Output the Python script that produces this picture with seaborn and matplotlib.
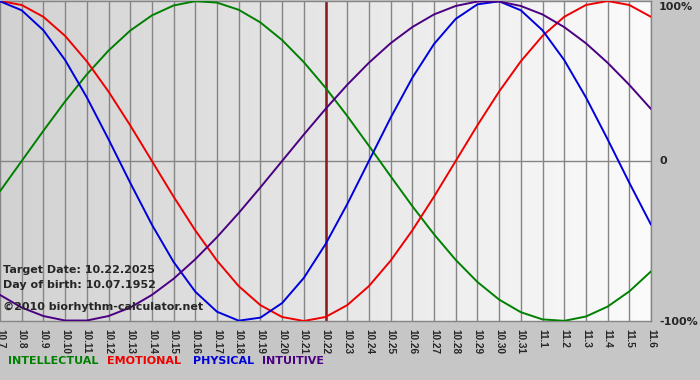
import numpy as np
import pandas as pd
import matplotlib
matplotlib.use("Agg")
import matplotlib.pyplot as plt
import seaborn as sns

# day labels on the x axis (10.7 .. 11.6)
days = ["10.7", "10.8", "10.9", "10.10", "10.11", "10.12", "10.13", "10.14",
        "10.15", "10.16", "10.17", "10.18", "10.19", "10.20", "10.21", "10.22",
        "10.23", "10.24", "10.25", "10.26", "10.27", "10.28", "10.29", "10.30",
        "10.31", "11.1", "11.2", "11.3", "11.4", "11.5", "11.6"]

# cycle values per day, -1 .. 1
intellectual = [-0.189, 0.0, 0.189, 0.372, 0.541, 0.690, 0.815, 0.910, 0.972, 0.999,
                0.990, 0.945, 0.866, 0.756, 0.618, 0.458, 0.282, 0.095, -0.095, -0.282,
                -0.458, -0.618, -0.756, -0.866, -0.945, -0.990, -0.999, -0.972, -0.910,
                -0.815, -0.690]
emotional = [1.0, 0.975, 0.901, 0.782, 0.623, 0.434, 0.223, 0.0, -0.223, -0.434,
             -0.623, -0.782, -0.901, -0.975, -1.0, -0.975, -0.901, -0.782, -0.623, -0.434,
             -0.223, 0.0, 0.223, 0.434, 0.623, 0.782, 0.901, 0.975, 1.0, 0.975, 0.901]
physical = [0.998, 0.942, 0.817, 0.631, 0.398, 0.136, -0.136, -0.398, -0.631, -0.817,
            -0.942, -0.998, -0.979, -0.888, -0.731, -0.520, -0.270, 0.0, 0.270, 0.520,
            0.731, 0.888, 0.979, 0.998, 0.942, 0.817, 0.631, 0.398, 0.136, -0.136, -0.398]
intuitive = [-0.837, -0.916, -0.969, -0.997, -0.997, -0.969, -0.916, -0.837, -0.736, -0.614,
             -0.476, -0.325, -0.165, 0.0, 0.165, 0.325, 0.476, 0.614, 0.736, 0.837,
             0.916, 0.969, 0.997, 0.997, 0.969, 0.916, 0.837, 0.736, 0.614, 0.476, 0.325]

y_levels = [1, 0, -1]
y_labels = ["100%", "0", "-100%"]

target_day = "10.22"
target_text = "Target Date: 10.22.2025"
birth_text = "Day of birth: 10.07.1952"
copyright_text = "\u00a92010 biorhythm-calculator.net"

colors = {"INTELLECTUAL": "#008000", "EMOTIONAL": "#ee0000",
          "PHYSICAL": "#0000dd", "INTUITIVE": "#4b0082"}

df = pd.DataFrame({
    "day": list(range(len(days))) * 4,
    "value": intellectual + emotional + physical + intuitive,
    "cycle": (["INTELLECTUAL"] * len(days) + ["EMOTIONAL"] * len(days)
              + ["PHYSICAL"] * len(days) + ["INTUITIVE"] * len(days)),
})

sns.set_style("white")
plt.rcParams["font.family"] = ["DejaVu Sans"]

fig = plt.figure(figsize=(7, 3.8), dpi=100, facecolor="#c6c6c6")
ax = fig.add_axes([0, 59 / 380, 651 / 700, 320 / 380])

# light grey gradient behind the curves
grad = np.linspace(0, 1, 256).reshape(1, -1)
ax.imshow(grad, extent=[0, len(days) - 1, -1, 1], aspect="auto",
          cmap=matplotlib.colors.LinearSegmentedColormap.from_list("bg", ["#d2d2d2", "#fbfbfb"]),
          zorder=0)

for d in range(len(days)):
    ax.axvline(d, color="#858585", lw=1, zorder=1)
ax.axhline(0, color="#858585", lw=1, zorder=1)
ax.axvline(days.index(target_day), color="#8b1a1a", lw=1.8, zorder=2)

sns.lineplot(data=df, x="day", y="value", hue="cycle", palette=colors,
             linewidth=1.4, legend=False, ax=ax, zorder=3)

ax.set_xlim(0, len(days) - 1)
ax.set_ylim(-1, 1)
ax.set_xlabel("")
ax.set_ylabel("")
ax.set_xticks(range(len(days)))
ax.set_xticklabels(days, rotation=-90, fontsize=7.2, family="Liberation Sans",
                   fontweight="bold")
ax.tick_params(axis="x", length=5, color="#858585", pad=1, width=1)
ax.set_yticks([])
for side in ["top", "bottom", "right"]:
    ax.spines[side].set_color("#858585")
    ax.spines[side].set_linewidth(1)
ax.spines["left"].set_visible(False)

# right side percentage labels
for lvl, lab in zip(y_levels, y_labels):
    ypix = {1: 7, 0: 161, -1: 322}[lvl]
    fig.text(659 / 700, 1 - ypix / 380, lab, fontsize=8, fontweight="bold",
             va="center", ha="left")

for i, t in enumerate([target_text, birth_text]):
    ax.text(0.004, 0.16 - i * 0.047, t, transform=ax.transAxes, fontsize=8,
            fontweight="bold", va="center", ha="left", zorder=4)
ax.text(0.004, 0.045, copyright_text, transform=ax.transAxes, fontsize=8,
        fontweight="bold", va="center", ha="left", zorder=4)

legend_x = [8, 107, 193, 262]
for x, name in zip(legend_x, colors):
    fig.text(x / 700, 1 - 361 / 380, name, color=colors[name], fontsize=8,
             fontweight="bold", va="center", ha="left")

fig.savefig("out.png", dpi=100, facecolor=fig.get_facecolor())
